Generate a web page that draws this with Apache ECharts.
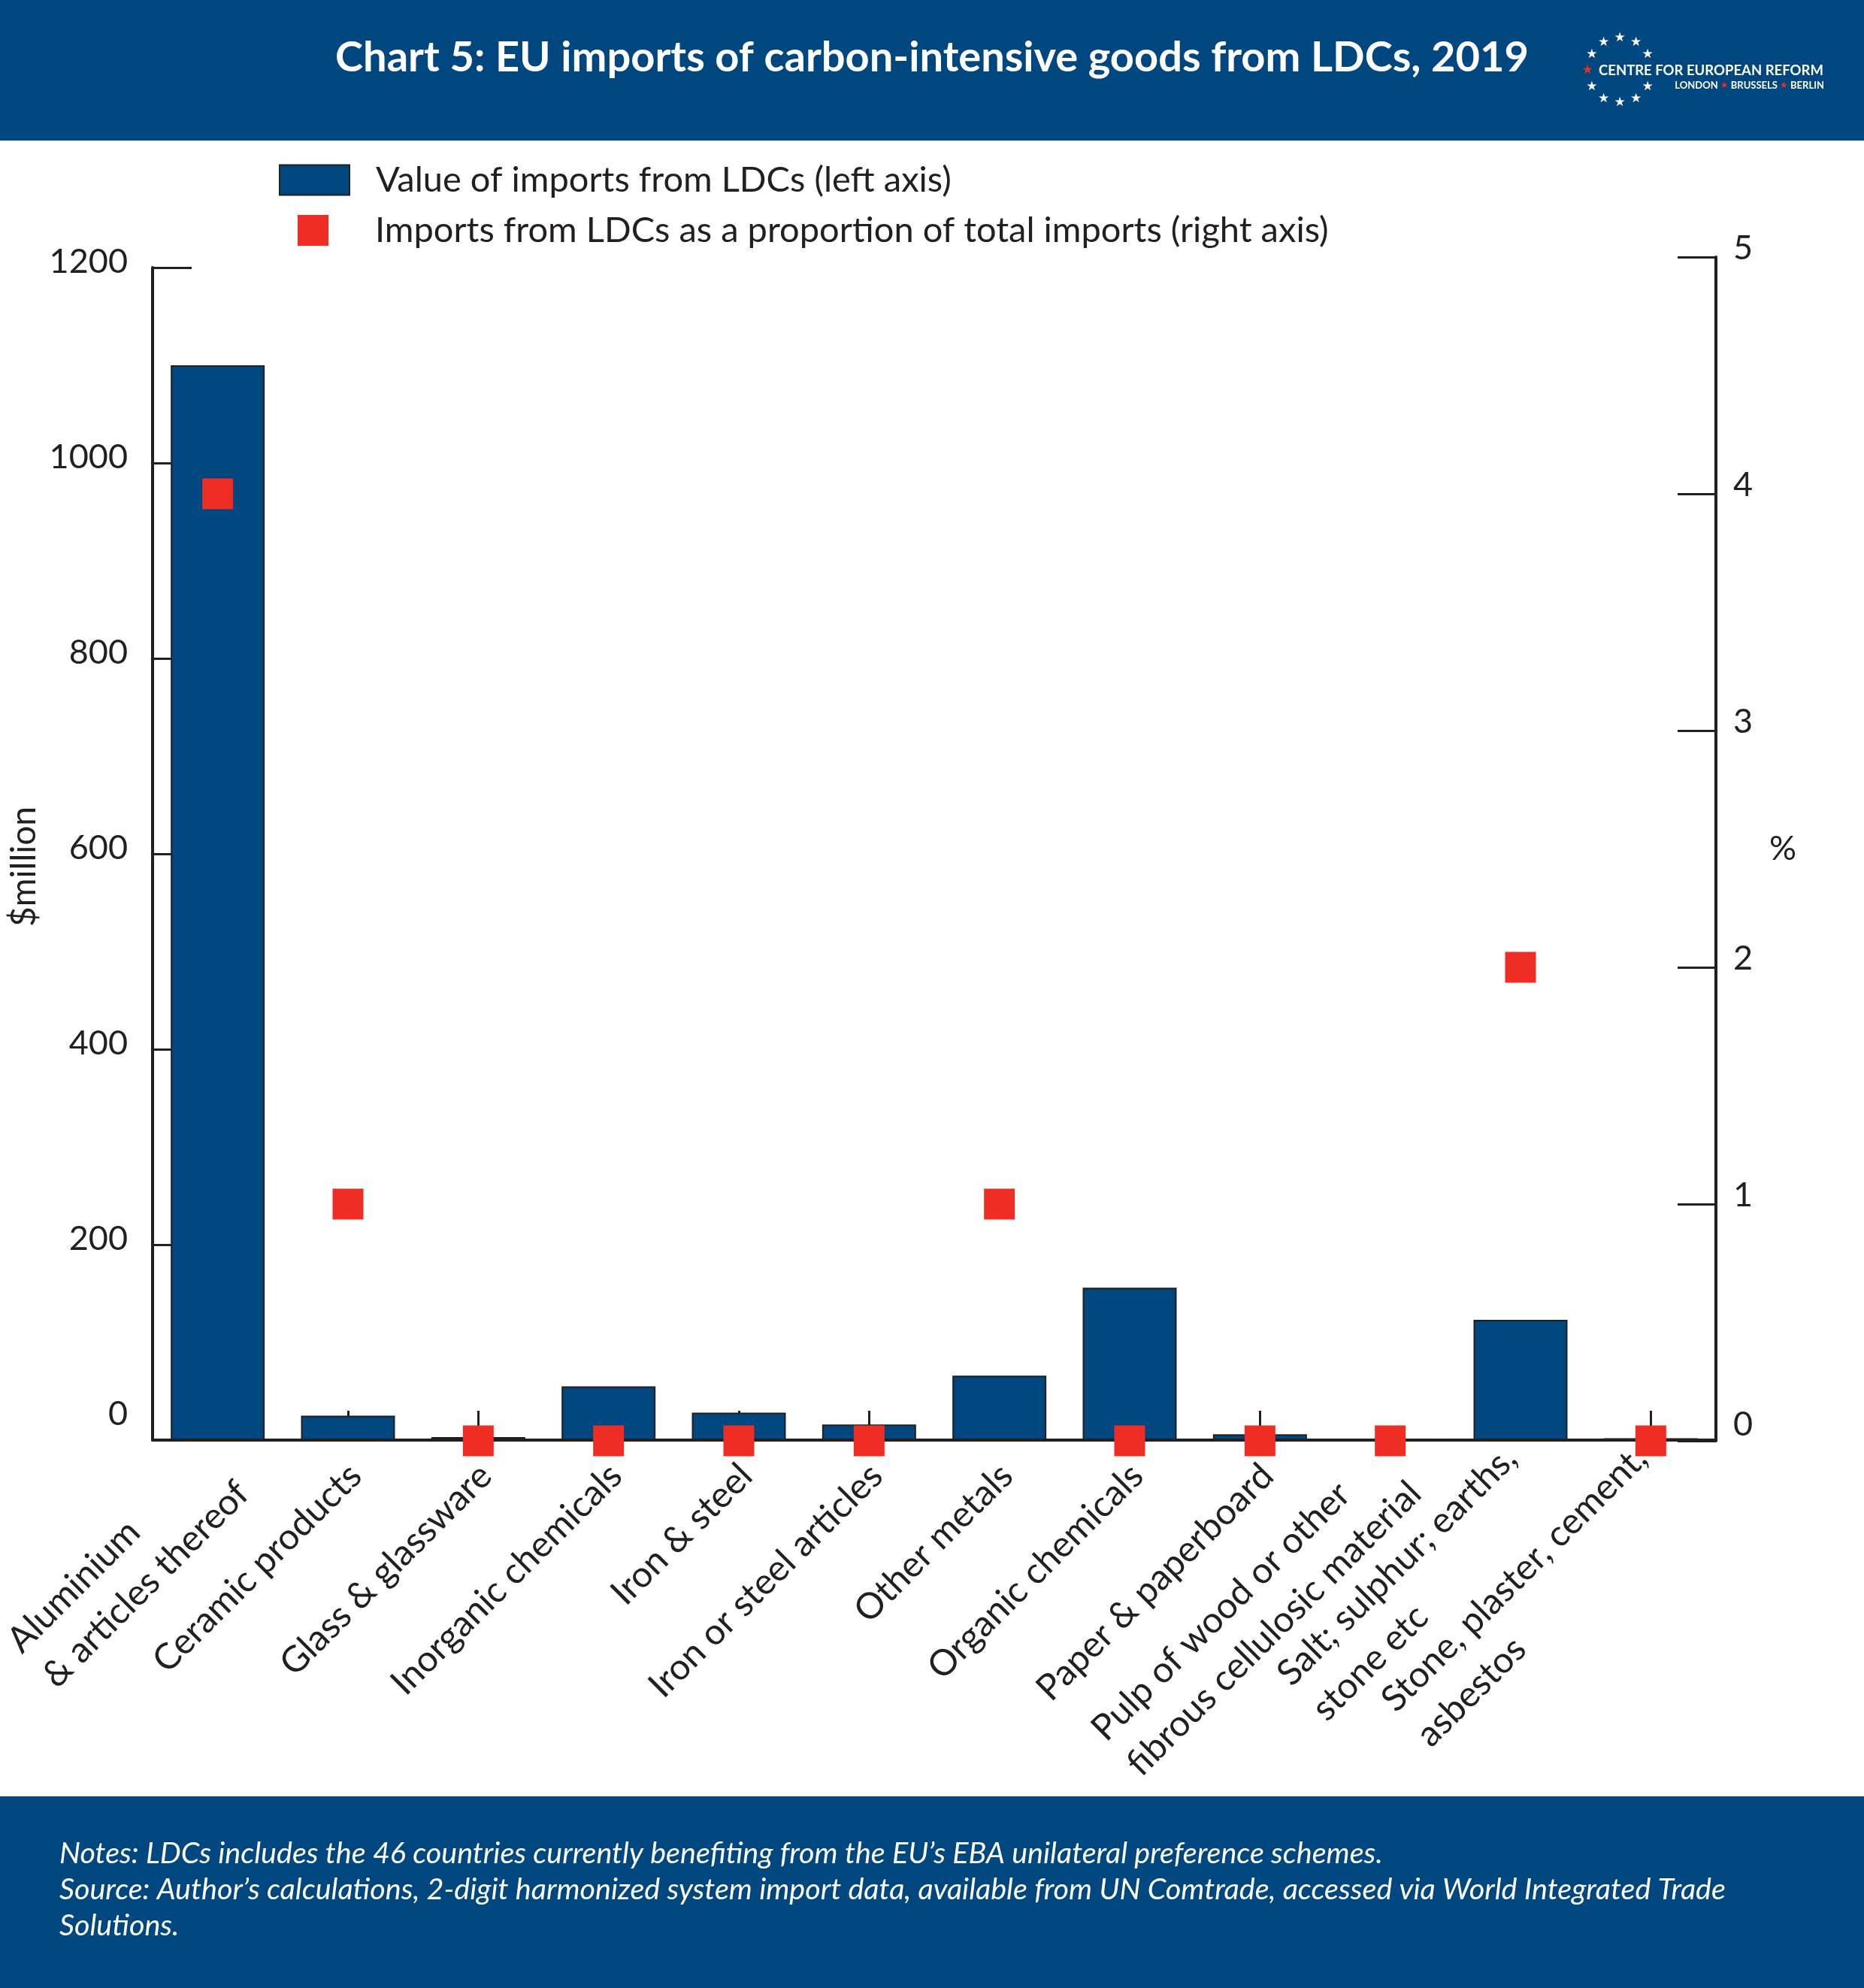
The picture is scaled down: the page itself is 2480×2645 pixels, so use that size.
<!DOCTYPE html>
<html><head><meta charset="utf-8">
<script src="https://cdn.jsdelivr.net/npm/echarts@6/dist/echarts.min.js"></script>
<style>html,body{margin:0;padding:0;background:#fff}#c{width:2480px;height:2645px}</style>
</head><body><div id="c"></div>
<script>
// ---- data ----
const categories = [
  'Aluminium\n& articles thereof',
  'Ceramic products',
  'Glass & glassware',
  'Inorganic chemicals',
  'Iron & steel',
  'Iron or steel articles',
  'Other metals',
  'Organic chemicals',
  'Paper & paperboard',
  'Pulp of wood or other\nfibrous cellulosic material',
  'Salt; sulphur; earths,\nstone etc',
  'Stone, plaster, cement,\nasbestos'
];
const importValues = [1100, 25, 3, 55, 28, 16, 66, 156, 6, 0, 123, 2];   // $ million, left axis
const ldcShare = [4, 1, 0, 0, 0, 0, 1, 0, 0, 0, 2, 0];                  // %, right axis
const leftAxisRange = [0, 1200, 200];
const rightAxisRange = [0, 5, 1];
const seriesNames = ['Value of imports from LDCs (left axis)', 'Imports from LDCs as a proportion of total imports (right axis)'];
const titleText = 'Chart 5: EU imports of carbon-intensive goods from LDCs, 2019';
const noteText = 'Notes: LDCs includes the 46 countries currently benefiting from the EU\u2019s EBA unilateral preference schemes.\nSource: Author\u2019s calculations, 2-digit harmonized system import data, available from UN Comtrade, accessed via World Integrated Trade\nSolutions.';

// ---- style ----
const BLUE = '#00467f', RED = '#ee2e24', INK = '#231f20';
const FONT = 'Lato';

const chart = echarts.init(document.getElementById('c'), null, {renderer: 'canvas'});

const stars = [];
for (let k = 0; k < 12; k++) {
  if (k === 3) continue; // hidden behind the wordmark
  const a = -Math.PI / 2 + k * Math.PI / 6;
  stars.push({
    type: 'text', x: 2155 + 43 * Math.cos(a), y: 94 + 43 * Math.sin(a),
    style: {text: '\u2605', fill: k === 9 ? RED : '#fff', fontSize: 17, align: 'center', verticalAlign: 'middle', fontFamily: 'DejaVu Sans'}
  });
}

const option = {
  backgroundColor: '#fff',
  animation: false,
  textStyle: {fontFamily: FONT, color: INK},
  graphic: [
    {type: 'rect', shape: {x: 0, y: 0, width: 2480, height: 187}, style: {fill: BLUE}, z: -10},
    {type: 'rect', shape: {x: 0, y: 2390, width: 2480, height: 255}, style: {fill: BLUE}, z: -10},
    {type: 'text', x: 1240, y: 77, style: {text: titleText, fill: '#fff', fontSize: 56, fontWeight: 'bold', fontFamily: FONT, align: 'center', verticalAlign: 'middle'}},
    ...stars,
    {type: 'text', x: 2127, y: 94, style: {text: 'CENTRE FOR EUROPEAN REFORM', fill: '#fff', fontSize: 18.5, fontWeight: 'bold', fontFamily: FONT, align: 'left', verticalAlign: 'middle'}},
    {type: 'text', x: 2427, y: 114, style: {
      text: '{w|LONDON }{r|\u2605}{w| BRUSSELS }{r|\u2605}{w| BERLIN}', align: 'right', verticalAlign: 'middle',
      rich: {w: {fill: '#fff', fontSize: 13, fontWeight: 'bold', fontFamily: FONT}, r: {fill: RED, fontSize: 12, fontFamily: 'DejaVu Sans'}}
    }},
    {type: 'text', x: 79, y: 2442, style: {text: noteText, fill: '#fff', fontSize: 39.5, fontStyle: 'italic', fontFamily: FONT, lineHeight: 48, align: 'left', verticalAlign: 'top'}}
  ],
  legend: [
    {data: [{name: seriesNames[0], icon: 'rect'}], left: 371, top: 216, padding: 0, itemWidth: 93, itemHeight: 40,
     selectedMode: false, textStyle: {fontSize: 47, color: INK, fontFamily: FONT, padding: [0, 0, 0, 30]}},
    {data: [{name: seriesNames[1], icon: 'rect'}], left: 396, top: 283, padding: 0, itemWidth: 41, itemHeight: 41,
     selectedMode: false, textStyle: {fontSize: 47, color: INK, fontFamily: FONT, padding: [0, 0, 0, 57]}}
  ],
  grid: [
    {left: 203, right: 197, top: 356, height: 1560, containLabel: false, outerBoundsMode: 'none'},
    {left: 203, right: 197, top: 342, height: 1575, containLabel: false, outerBoundsMode: 'none'}
  ],
  xAxis: [
    {
      type: 'category', gridIndex: 0, data: categories,
      axisLine: {show: true, lineStyle: {color: INK, width: 4}},
      axisTick: {show: true, inside: true, alignWithLabel: true, length: 39, lineStyle: {color: INK, width: 3},
                 interval: (i) => i !== 9},
      axisLabel: {
        interval: 0, rotate: 45, margin: 30, hideOverlap: false, padding: [28, 0, 0, 0],
        formatter: (v) => v.split('\n').map(s => '{a|' + s + '}').join('\n'),
        rich: {a: {align: 'left', fontSize: 48, lineHeight: 66, color: INK, fontFamily: FONT}}
      },
      splitLine: {show: false}
    },
    {type: 'category', gridIndex: 1, data: categories, show: false}
  ],
  yAxis: [
    {
      type: 'value', gridIndex: 0, position: 'left',
      min: leftAxisRange[0], max: leftAxisRange[1], interval: leftAxisRange[2],
      name: '$million', nameLocation: 'middle', nameRotate: 90, nameGap: 127,
      nameTextStyle: {fontSize: 46, color: INK, fontFamily: FONT, padding: [0, 34, 0, 0]},
      axisLine: {show: true, lineStyle: {color: INK, width: 4}},
      axisTick: {show: true, inside: true, length: 52, lineStyle: {color: INK, width: 3}},
      axisLabel: {
        margin: 33,
        formatter: (v) => v === 0 ? '{z|0}' : '{n|' + v + '}',
        rich: {n: {fontSize: 45, color: INK, fontFamily: FONT, padding: [0, 0, 16, 0]},
               z: {fontSize: 45, color: INK, fontFamily: FONT, padding: [0, 0, 70, 0]}}
      },
      splitLine: {show: false}
    },
    {
      type: 'value', gridIndex: 1, position: 'right',
      min: rightAxisRange[0], max: rightAxisRange[1], interval: rightAxisRange[2],
      name: '%', nameLocation: 'middle', nameRotate: 0, nameGap: 71,
      nameTextStyle: {fontSize: 45, color: INK, fontFamily: FONT},
      axisLine: {show: true, lineStyle: {color: INK, width: 4}},
      axisTick: {show: true, inside: true, length: 51, lineStyle: {color: INK, width: 3}},
      axisLabel: {
        margin: 23,
        formatter: (v) => v === 0 ? '{z|0}' : '{n|' + v + '}',
        rich: {n: {fontSize: 45, color: INK, fontFamily: FONT, padding: [0, 0, 24, 0]},
               z: {fontSize: 45, color: INK, fontFamily: FONT, padding: [0, 0, 44, 0]}}
      },
      splitLine: {show: false}
    }
  ],
  series: [
    {
      name: seriesNames[0], type: 'bar', xAxisIndex: 0, yAxisIndex: 0, data: importValues,
      barWidth: 125, itemStyle: {color: BLUE, borderColor: INK, borderWidth: 2}
    },
    {
      name: seriesNames[1], type: 'scatter', xAxisIndex: 1, yAxisIndex: 1, data: ldcShare,
      symbol: 'rect', symbolSize: 41, itemStyle: {color: RED, opacity: 1}
    }
  ]
};
chart.setOption(option);
</script>
</body></html>
